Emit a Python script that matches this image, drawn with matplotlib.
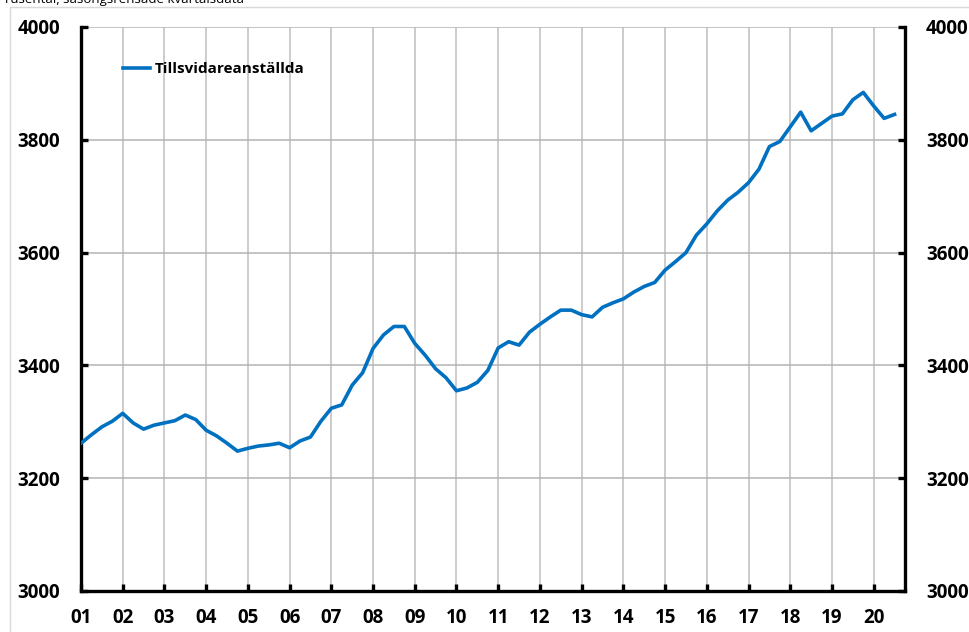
import numpy as np
import matplotlib
matplotlib.use("Agg")
import matplotlib.pyplot as plt
from matplotlib.patches import Rectangle

# Tillsvidareanställda, tusental, kvartal 2001K1-2020K3
values = [
    3262, 3277, 3291, 3301, 3315, 3298, 3287, 3294, 3298, 3302,
    3312, 3304, 3285, 3275, 3262, 3248, 3253, 3257, 3259, 3262,
    3254, 3266, 3273, 3301, 3324, 3330, 3365, 3387, 3430, 3454,
    3469, 3469, 3439, 3418, 3394, 3378, 3355, 3360, 3370, 3391,
    3431, 3442, 3436, 3459, 3473, 3486, 3498, 3498, 3490, 3486,
    3503, 3511, 3518, 3530, 3540, 3547, 3569, 3584, 3600, 3631,
    3651, 3674, 3693, 3707, 3724, 3748, 3788, 3797, 3823, 3849,
    3816, 3829, 3842, 3846, 3871, 3884, 3860, 3838, 3845,
]
year_labels = ["01", "02", "03", "04", "05", "06", "07", "08", "09", "10",
               "11", "12", "13", "14", "15", "16", "17", "18", "19", "20"]
y_ticks = [3000, 3200, 3400, 3600, 3800, 4000]
series_name = "Tillsvidareanställda"
subtitle = "Tusental, säsongsrensade kvartalsdata"

plt.rcParams["font.family"] = ["Open Sans", "DejaVu Sans"]
plt.rcParams["font.weight"] = "bold"

W, H = 969, 632
fig = plt.figure(figsize=(W / 100, H / 100), dpi=100)

# light frame round the chart area
fig.patches.append(Rectangle((10 / W, -0.05), 1.2, 1 - 7 / H + 0.05,
                             transform=fig.transFigure, fill=False,
                             edgecolor="#d9d9d9", linewidth=1.0))
fig.text(3 / W, 1 - 3 / H, subtitle, fontsize=9.5, fontweight="normal",
         va="baseline", ha="left")

ax = fig.add_axes([81 / W, 1 - 591 / H, 824 / W, 564 / H])
x = np.arange(len(values))
ax.plot(x, values, color="#0070C0", linewidth=2.6, label=series_name,
        zorder=3)

ax.set_xlim(0, len(values))
ax.set_ylim(3000, 4000)
year_pos = np.arange(len(year_labels)) * 4
ax.set_xticks(year_pos)
ax.set_xticklabels(year_labels)
ax.set_yticks(y_ticks)

for xp in year_pos[1:]:
    ax.axvline(xp, color="#c8c8c8", linewidth=1.3, zorder=1)
for yp in y_ticks[1:]:
    ax.axhline(yp, color="#b4b4b4", linewidth=1.1, zorder=1)

for side in ["left", "right", "bottom"]:
    ax.spines[side].set_linewidth(2.4)
    ax.spines[side].set_color("black")
ax.spines["top"].set_visible(False)

ax.tick_params(axis="y", direction="in", length=5, width=2.4,
               left=True, right=True, labelleft=True, labelright=True,
               labelsize=13.5, pad=15)
ax.tick_params(axis="x", direction="in", length=5, width=2.4,
               labelsize=13.5, pad=12)

ax.legend(loc="center left", bbox_to_anchor=(42 / 824, 522 / 564),
          frameon=False, borderpad=0, borderaxespad=0,
          handlelength=1.75, handletextpad=0.35,
          prop={"weight": "bold", "size": 11})

fig.savefig("out.png", dpi=100)
